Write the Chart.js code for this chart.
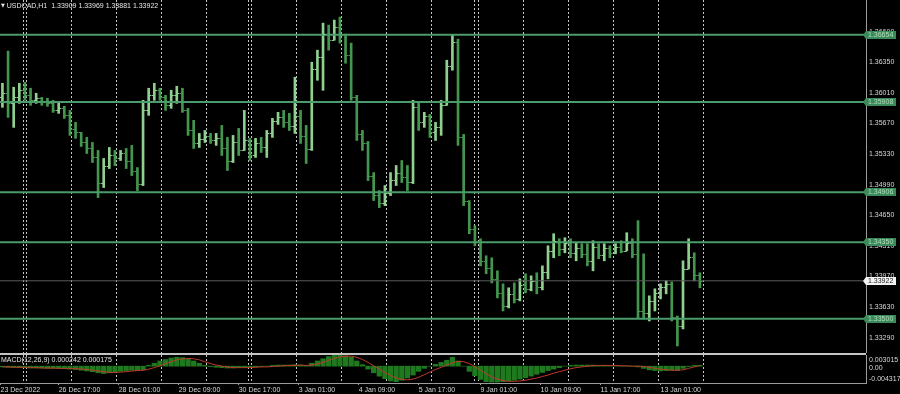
<!DOCTYPE html>
<html>
<head>
<meta charset="utf-8">
<title>USDCAD,H1</title>
<script src="https://cdn.jsdelivr.net/npm/chart.js@4.4.1/dist/chart.umd.min.js"></script>
<style>
  html, body { margin: 0; padding: 0; background: #000; }
  #wrap { position: relative; width: 900px; height: 394px; overflow: hidden; background: #000;
          font-family: 'Liberation Sans', Arial, 'DejaVu Sans', sans-serif; }
  #price-chart { position: absolute; left: 0; top: 0; }
  #macd-chart { position: absolute; left: 0; top: 355px; }
  .sep { position: absolute; left: 0; top: 353px; width: 866px; height: 2px; background: #c4c4c4; }
  .caption { position: absolute; left: 1px; font-size: 7px; line-height: 8px; color: #e6e6e6; white-space: nowrap; }
  .caption .tri { font-family: 'DejaVu Sans', sans-serif; font-size: 5px; vertical-align: 1px; }
</style>
</head>
<body>
<div id="wrap">
  <canvas id="price-chart" width="900" height="353"></canvas>
  <div class="sep"></div>
  <canvas id="macd-chart" width="900" height="39"></canvas>
  <div class="caption" style="top:1px"><span class="tri">▼</span> USDCAD,H1&nbsp; 1.33909 1.33969 1.33881 1.33922</div>
  <div class="caption" style="top:356px">MACD(12,26,9) 0.000242 0.000175</div>
</div>
<script>
// USDCAD H1, 23 Dec 2022 .. 13 Jan 2023 - each entry is one 3-hour block
const highs = [
  1.36116, 1.36473, 1.36072, 1.36116, 1.36127, 1.36061, 1.36005, 1.35960, 1.35949, 1.35927,
  1.35893, 1.35860, 1.35815, 1.35682, 1.35570, 1.35515, 1.35459, 1.35370, 1.35281, 1.35403,
  1.35370, 1.35370, 1.35392, 1.35426, 1.35180, 1.35927, 1.36061, 1.36116, 1.36061, 1.35982,
  1.36038, 1.36083, 1.36061, 1.35838, 1.35704, 1.35559, 1.35592, 1.35559, 1.35559, 1.35648,
  1.35515, 1.35537, 1.35615, 1.35815, 1.35504, 1.35504, 1.35515, 1.35592, 1.35726, 1.35793,
  1.35815, 1.35782, 1.36183, 1.35815, 1.35648, 1.36350, 1.36484, 1.36784, 1.36762, 1.36818,
  1.36851, 1.36662, 1.36562, 1.35982, 1.35592, 1.35470, 1.35124, 1.34924, 1.34980, 1.35124,
  1.35203, 1.35258, 1.35203, 1.35927, 1.35893, 1.35793, 1.35770, 1.35682, 1.35927, 1.36372,
  1.36651, 1.36606, 1.35548, 1.34813, 1.34534, 1.34389, 1.34200, 1.34178, 1.34033, 1.33888,
  1.33844, 1.33899, 1.33944, 1.34000, 1.33977, 1.34011, 1.34088, 1.34311, 1.34445, 1.34389,
  1.34400, 1.34389, 1.34345, 1.34334, 1.34334, 1.34367, 1.34334, 1.34334, 1.34311, 1.34334,
  1.34367, 1.34456, 1.34389, 1.34590, 1.34222, 1.33755, 1.33833, 1.33888, 1.33922, 1.33911,
  1.33531, 1.34144, 1.34389, 1.34233, 1.34011
];
const lows = [
  1.35849, 1.35737, 1.35626, 1.35893, 1.35927, 1.35871, 1.35893, 1.35871, 1.35860, 1.35793,
  1.35782, 1.35726, 1.35537, 1.35504, 1.35414, 1.35336, 1.35236, 1.34846, 1.34958, 1.35169,
  1.35202, 1.35258, 1.35169, 1.35091, 1.34924, 1.34980, 1.35760, 1.35927, 1.35927, 1.35815,
  1.35838, 1.35893, 1.35793, 1.35537, 1.35392, 1.35403, 1.35459, 1.35448, 1.35426, 1.35314,
  1.35147, 1.35236, 1.35314, 1.35370, 1.35258, 1.35292, 1.35347, 1.35292, 1.35515, 1.35659,
  1.35626, 1.35592, 1.35559, 1.35448, 1.35225, 1.35370, 1.36149, 1.36038, 1.36484, 1.36595,
  1.36562, 1.36339, 1.35927, 1.35481, 1.35370, 1.35035, 1.34813, 1.34735, 1.34757, 1.34869,
  1.34980, 1.35013, 1.34924, 1.35002, 1.35592, 1.35626, 1.35515, 1.35481, 1.35537, 1.35871,
  1.36261, 1.35426, 1.34757, 1.34445, 1.34311, 1.34088, 1.34000, 1.33899, 1.33732, 1.33587,
  1.33621, 1.33676, 1.33699, 1.33788, 1.33810, 1.33777, 1.33821, 1.33944, 1.34178, 1.34200,
  1.34233, 1.34178, 1.34144, 1.34178, 1.34088, 1.34033, 1.34167, 1.34144, 1.34178, 1.34222,
  1.34233, 1.34256, 1.34178, 1.33509, 1.33498, 1.33476, 1.33587, 1.33721, 1.33777, 1.33476,
  1.33198, 1.33387, 1.34055, 1.33922, 1.33844
];
const opens = [
  1.35960, 1.36005, 1.35893, 1.35960, 1.36038, 1.35982, 1.35927, 1.35949, 1.35904, 1.35893,
  1.35815, 1.35838, 1.35760, 1.35604, 1.35570, 1.35459, 1.35392, 1.35292, 1.35013, 1.35202,
  1.35314, 1.35281, 1.35336, 1.35258, 1.35147, 1.35002, 1.35815, 1.35982, 1.36038, 1.35960,
  1.35871, 1.35982, 1.36005, 1.35815, 1.35592, 1.35448, 1.35492, 1.35526, 1.35481, 1.35504,
  1.35392, 1.35258, 1.35459, 1.35370, 1.35481, 1.35314, 1.35448, 1.35403, 1.35559, 1.35693,
  1.35737, 1.35682, 1.35637, 1.35749, 1.35526, 1.35381, 1.36272, 1.36406, 1.36662, 1.36595,
  1.36740, 1.36651, 1.36428, 1.35960, 1.35548, 1.35448, 1.35091, 1.34880, 1.34790, 1.34902,
  1.35046, 1.35124, 1.35080, 1.35024, 1.35849, 1.35682, 1.35749, 1.35570, 1.35626, 1.35871,
  1.36306, 1.36573, 1.35515, 1.34813, 1.34500, 1.34367, 1.34144, 1.34066, 1.33944, 1.33788,
  1.33643, 1.33777, 1.33721, 1.33877, 1.33832, 1.33922, 1.33855, 1.34022, 1.34256, 1.34367,
  1.34278, 1.34345, 1.34233, 1.34289, 1.34222, 1.34144, 1.34300, 1.34211, 1.34289, 1.34233,
  1.34300, 1.34256, 1.34345, 1.34222, 1.33587, 1.33565, 1.33699, 1.33788, 1.33855, 1.33888,
  1.33520, 1.33420, 1.34055, 1.34189, 1.33988
];
const closes = [
  1.36005, 1.35893, 1.35960, 1.36038, 1.35982, 1.35927, 1.35949, 1.35904, 1.35893, 1.35815,
  1.35838, 1.35760, 1.35604, 1.35570, 1.35459, 1.35392, 1.35292, 1.35013, 1.35202, 1.35314,
  1.35281, 1.35336, 1.35258, 1.35147, 1.35002, 1.35815, 1.35982, 1.36038, 1.35960, 1.35871,
  1.35982, 1.36005, 1.35815, 1.35592, 1.35448, 1.35492, 1.35526, 1.35481, 1.35504, 1.35392,
  1.35258, 1.35459, 1.35370, 1.35481, 1.35314, 1.35448, 1.35403, 1.35559, 1.35693, 1.35737,
  1.35682, 1.35637, 1.35749, 1.35526, 1.35381, 1.36272, 1.36406, 1.36662, 1.36595, 1.36740,
  1.36651, 1.36428, 1.35960, 1.35548, 1.35448, 1.35091, 1.34880, 1.34790, 1.34902, 1.35046,
  1.35124, 1.35080, 1.35024, 1.35849, 1.35682, 1.35749, 1.35570, 1.35626, 1.35871, 1.36306,
  1.36573, 1.35515, 1.34813, 1.34500, 1.34367, 1.34144, 1.34066, 1.33944, 1.33788, 1.33643,
  1.33777, 1.33721, 1.33877, 1.33832, 1.33922, 1.33855, 1.34022, 1.34256, 1.34367, 1.34278,
  1.34345, 1.34233, 1.34289, 1.34222, 1.34144, 1.34300, 1.34211, 1.34289, 1.34233, 1.34300,
  1.34256, 1.34345, 1.34222, 1.33587, 1.33565, 1.33699, 1.33788, 1.33855, 1.33888, 1.33520,
  1.33420, 1.34055, 1.34189, 1.33988, 1.33922
];

// MACD(12,26,9) main (histogram) and signal, same 3-hour blocks
const macdMain = [
  -0.0002, -0.0003, -0.0003, -0.0004, -0.0004, -0.0005,
  -0.0005, -0.0005, -0.0006, -0.0006, -0.0006, -0.0007, -0.0008,
  -0.0009, -0.0011, -0.0013, -0.0015, -0.0018, -0.0020, -0.0018, -0.0016,
  -0.0014, -0.0012, -0.0011, -0.0012, -0.0010,
  0.0002, 0.0008, 0.0014, 0.0018, 0.0022, 0.0024, 0.0023, 0.0020, 0.0014, 0.0008,
  0.0002, -0.0001, -0.0003, -0.0004, -0.0005, -0.0005, -0.0004, -0.0003, -0.0003, -0.0002,
  -0.0001, 0.0000, 0.0002, 0.0003, 0.0003, 0.0003, 0.0004, 0.0003, 0.0002,
  0.0008, 0.0014, 0.0020, 0.0026, 0.0029, 0.003015, 0.0028, 0.0024,
  0.0014, 0.0004, -0.0008, -0.0018, -0.0027, -0.0034, -0.0040, -0.0042, -0.0038, -0.0032, -0.0024,
  -0.0014, -0.0006, 0.0000, 0.0005, 0.0010, 0.0016, 0.0024, 0.0014,
  0.0000, -0.0014, -0.0026, -0.0036, -0.0042, -0.004317, -0.0043, -0.0042, -0.0040, -0.0038,
  -0.0035, -0.0031, -0.0027, -0.0022, -0.0017, -0.0012, -0.0008, -0.0004,
  0.0000, 0.0002, 0.0003, 0.0003, 0.0003, 0.0003, 0.0002, 0.0002, 0.0001, 0.0001,
  0.0000, 0.0000, 0.0000, -0.0002,
  -0.0006, -0.0010, -0.0012, -0.0013, -0.0012, -0.0011, -0.0012, -0.0006,
  -0.0001, 0.0002, 0.000242
];
const macdSignal = [
  -0.0002, -0.0002, -0.0003, -0.0003, -0.0003, -0.0004,
  -0.0004, -0.0005, -0.0005, -0.0005, -0.0006, -0.0006, -0.0006,
  -0.0007, -0.0008, -0.0009, -0.0011, -0.0013, -0.0015, -0.0017, -0.0017,
  -0.0016, -0.0015, -0.0013, -0.0012, -0.0011,
  -0.0008, -0.0004, 0.0001, 0.0007, 0.0012, 0.0017, 0.0020, 0.0021, 0.0020, 0.0017,
  0.0012, 0.0007, 0.0003, 0.0000, -0.0002, -0.0004, -0.0004, -0.0004, -0.0004, -0.0003,
  -0.0002, -0.0002, -0.0001, 0.0000, 0.0001, 0.0002, 0.0002, 0.0003, 0.0002,
  0.0003, 0.0006, 0.0010, 0.0016, 0.0021, 0.0025, 0.0027, 0.0027,
  0.0024, 0.0018, 0.0010, 0.0001, -0.0008, -0.0017, -0.0025, -0.0032, -0.0036, -0.0037, -0.0035,
  -0.0030, -0.0023, -0.0016, -0.0009, -0.0003, 0.0003, 0.0009, 0.0013,
  0.0012, 0.0007, -0.0001, -0.0011, -0.0021, -0.0029, -0.0035, -0.0039, -0.0041, -0.0041,
  -0.0040, -0.0038, -0.0035, -0.0032, -0.0028, -0.0024, -0.0019, -0.0015,
  -0.0011, -0.0007, -0.0004, -0.0002, 0.0000, 0.0001, 0.0002, 0.0002, 0.0002, 0.0002,
  0.0001, 0.0001, 0.0000, 0.0000,
  -0.0001, -0.0003, -0.0006, -0.0008, -0.0010, -0.0011, -0.0011, -0.0010,
  -0.0006, -0.0002, 0.000175
];

const levels = [1.36654, 1.35908, 1.34906, 1.34350, 1.33500];
const lastPrice = 1.33922;
const priceTicks = [1.33290, 1.33630, 1.33970, 1.34310, 1.34650, 1.34990, 1.35330, 1.35670, 1.36010, 1.36350, 1.36690];
const macdTicks = [0.003015, 0, -0.004317];
const macdTickText = ['0.003015', '0.00', '-0.004317'];

// hour index (from the first bar) of the day separators and of the time labels
const dayLineHours = [12, 14, 38, 62, 86, 110, 132, 134, 158, 182, 206, 230, 253, 255, 279, 303, 327, 351, 375];
const timeLabelHours = [0, 31, 63, 95, 127, 159, 191, 223, 256, 288, 320, 352];
const timeLabels = ['23 Dec 2022', '26 Dec 17:00', '28 Dec 01:00', '29 Dec 09:00', '30 Dec 17:00', '3 Jan 01:00',
                    '4 Jan 09:00', '5 Jan 17:00', '9 Jan 01:00', '10 Jan 09:00', '11 Jan 17:00', '13 Jan 01:00'];

const HOURS_PER_BAR = 3;
const X_MIN = -0.3;
const X_MAX = 461.6;
const barHour = i => i * HOURS_PER_BAR + 1;
const barColor = i => closes[i] >= opens[i] ? '#8fd08f' : '#44964f';

const FONT = "'Liberation Sans', Arial, sans-serif";
Chart.defaults.font.family = FONT;
Chart.defaults.font.size = 7;

// axes must not push the plot area in: the layout is fixed like the terminal window
const noPadding = s => {
    s.paddingTop = 0;
    s.paddingBottom = 0;
    s.paddingLeft = 0;
    s.paddingRight = 0;
};

// open / close ticks of the OHLC bars
const ohlcTicks = {
    id: 'ohlcTicks',
    afterDatasetsDraw(chart) {
        const { ctx, scales: { x, y } } = chart;
        ctx.save();
        ctx.lineWidth = 1;
        for (let i = 0; i < opens.length; i++) {
            const px = x.getPixelForValue(barHour(i));
            const yo = Math.round(y.getPixelForValue(opens[i])) + 0.5;
            const yc = Math.round(y.getPixelForValue(closes[i])) + 0.5;
            ctx.strokeStyle = barColor(i);
            ctx.beginPath();
            ctx.moveTo(px - 2.6, yo); ctx.lineTo(px, yo);
            ctx.moveTo(px, yc); ctx.lineTo(px + 2.6, yc);
            ctx.stroke();
        }
        ctx.restore();
    }
};

// price tags on the right axis for the levels and the last price
const priceTags = {
    id: 'priceTags',
    afterDraw(chart) {
        const { ctx, scales: { y }, chartArea } = chart;
        const left = chartArea.right;
        ctx.save();
        ctx.font = '7px ' + FONT;
        ctx.textBaseline = 'middle';
        const tag = (v, bg, fg) => {
            const py = Math.round(y.getPixelForValue(v));
            ctx.fillStyle = bg;
            ctx.beginPath();
            ctx.moveTo(left - 3, py);
            ctx.lineTo(left, py - 4);
            ctx.lineTo(left + 30, py - 4);
            ctx.lineTo(left + 30, py + 4);
            ctx.lineTo(left, py + 4);
            ctx.closePath();
            ctx.fill();
            ctx.fillStyle = fg;
            ctx.fillText(v.toFixed(5), left + 2, py + 0.5);
        };
        levels.forEach(v => tag(v, '#3b8a5b', '#b4dcbc'));
        tag(lastPrice, '#f2f2f2', '#1a1a1a');
        ctx.restore();
    }
};

const dayGridAxis = () => ({
    type: 'linear', position: 'bottom', min: X_MIN, max: X_MAX, offset: false,
    grid: { offset: false, color: '#c8c8c8', lineWidth: 1, drawTicks: false },
    border: { display: false, dash: [2, 2] },
    ticks: { display: false },
    afterBuildTicks: s => { s.ticks = dayLineHours.map(v => ({ value: v })); },
    afterFit: s => { s.height = 0; noPadding(s); }
});

const rightAxis = (min, max, ticks, fmt) => ({
    type: 'linear', position: 'right', min: min, max: max,
    grid: { display: false, drawTicks: false },
    border: { display: true, color: '#9c9c9c' },
    ticks: { color: '#d8d8d8', padding: 3, crossAlign: 'near', autoSkip: false, callback: fmt },
    afterBuildTicks: s => { s.ticks = ticks.map(v => ({ value: v })); },
    afterFit: s => { s.width = 34; noPadding(s); }
});

const baseOptions = {
    responsive: false,
    animation: false,
    events: [],
    layout: { padding: 0 },
    plugins: { legend: { display: false }, tooltip: { enabled: false } }
};

new Chart(document.getElementById('price-chart'), {
    type: 'bar',
    data: {
        datasets: [
            ...levels.map(v => ({
                type: 'line', data: [{ x: X_MIN, y: v }, { x: X_MAX, y: v }],
                borderColor: '#4a9d6b', borderWidth: 2, pointRadius: 0, order: 0
            })),
            {
                type: 'line', data: [{ x: X_MIN, y: lastPrice }, { x: X_MAX, y: lastPrice }],
                borderColor: '#5c5c5c', borderWidth: 1, pointRadius: 0, order: 0
            },
            {
                type: 'bar',
                data: highs.map((h, i) => ({ x: barHour(i), y: [lows[i], h] })),
                backgroundColor: c => barColor(c.dataIndex),
                barThickness: 2,
                order: 1
            }
        ]
    },
    options: {
        ...baseOptions,
        scales: {
            x: dayGridAxis(),
            y: rightAxis(1.33120, 1.37041, priceTicks, v => v.toFixed(5))
        }
    },
    plugins: [ohlcTicks, priceTags]
});

new Chart(document.getElementById('macd-chart'), {
    type: 'bar',
    data: {
        datasets: [
            {
                type: 'line', xAxisID: 'x', yAxisID: 'y',
                data: macdSignal.map((v, i) => ({ x: barHour(i), y: v })),
                borderColor: '#c0392b', borderWidth: 1, pointRadius: 0, order: 0
            },
            {
                type: 'bar', xAxisID: 'x', yAxisID: 'y',
                data: macdMain.map((v, i) => ({ x: barHour(i), y: v })),
                backgroundColor: '#1f7a1f', barThickness: 4.6, order: 1
            }
        ]
    },
    options: {
        ...baseOptions,
        scales: {
            x: dayGridAxis(),
            xl: {
                type: 'linear', position: 'bottom', min: X_MIN, max: X_MAX, offset: false,
                grid: { drawOnChartArea: false, offset: false, color: '#9c9c9c', tickLength: 2 },
                border: { display: true, color: '#9c9c9c' },
                ticks: { color: '#d8d8d8', padding: 1, align: 'start', maxRotation: 0, autoSkip: false,
                         callback: (v, idx) => timeLabels[idx] },
                afterBuildTicks: s => { s.ticks = timeLabelHours.map(v => ({ value: v })); },
                afterFit: s => { s.height = 11; noPadding(s); }
            },
            y: { display: false, min: -0.00455, max: 0.003015 },
            yl: rightAxis(-0.005654, 0.0049, macdTicks, (v, idx) => macdTickText[idx])
        }
    }
});

console.log('USDCAD H1 chart drawn:', highs.length, 'bars');
</script>
</body>
</html>
